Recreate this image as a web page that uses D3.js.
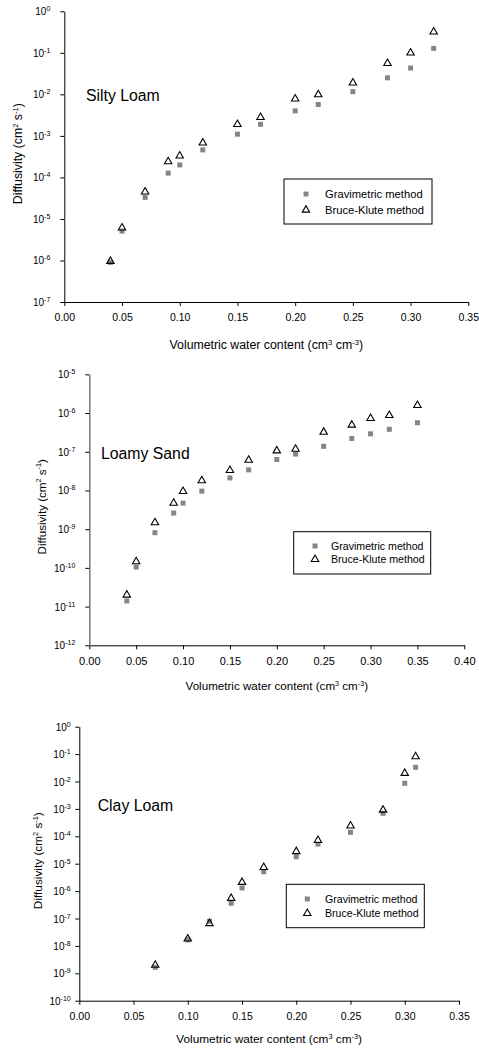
<!DOCTYPE html>
<html>
<head>
<meta charset="utf-8">
<script src="https://cdn.jsdelivr.net/npm/d3@7"></script>
<style>
  body { margin: 0; background: #fff; }
  svg { display: block; font-family: "Liberation Sans", Arial, sans-serif; }
</style>
</head>
<body>
<div id="chart"></div>
<script>
// Soil names and series names
const soilNames = ['Silty Loam', 'Loamy Sand', 'Clay Loam'];
const seriesNames = ['Gravimetric method', 'Bruce-Klute method'];
const xTitle = 'Volumetric water content';

// Silty loam
const siltyTheta = [0.04, 0.05, 0.07, 0.09, 0.10, 0.12, 0.15, 0.17, 0.20, 0.22, 0.25, 0.28, 0.30, 0.32];
const siltyGrav = [9.0e-7, 5.1e-6, 3.3e-5, 1.27e-4, 2.0e-4, 4.6e-4, 1.1e-3, 1.9e-3, 4.0e-3, 5.7e-3, 1.16e-2, 2.5e-2, 4.3e-2, 1.28e-1];
const siltyBK = [9.6e-7, 6.1e-6, 4.5e-5, 2.4e-4, 3.3e-4, 6.8e-4, 1.9e-3, 2.8e-3, 7.8e-3, 9.9e-3, 1.9e-2, 5.6e-2, 1.0e-1, 3.2e-1];
const siltyExps = [0, -1, -2, -3, -4, -5, -6, -7];

// Loamy sand
const sandTheta = [0.04, 0.05, 0.07, 0.09, 0.10, 0.12, 0.15, 0.17, 0.20, 0.22, 0.25, 0.28, 0.30, 0.32, 0.35];
const sandGrav = [1.4e-11, 1.05e-10, 8.1e-10, 2.6e-9, 4.7e-9, 9.6e-9, 2.1e-8, 3.4e-8, 6.3e-8, 8.7e-8, 1.38e-7, 2.2e-7, 2.9e-7, 3.8e-7, 5.6e-7];
const sandBK = [2.0e-11, 1.45e-10, 1.48e-9, 4.7e-9, 9.5e-9, 1.8e-8, 3.3e-8, 6.1e-8, 1.06e-7, 1.17e-7, 3.2e-7, 4.9e-7, 7.3e-7, 8.7e-7, 1.58e-6];
const sandExps = [-5, -6, -7, -8, -9, -10, -11, -12];

// Clay loam
const clayTheta = [0.07, 0.10, 0.12, 0.14, 0.15, 0.17, 0.20, 0.22, 0.25, 0.28, 0.30, 0.31];
const clayGrav = [1.65e-9, 1.65e-8, 7.9e-8, 3.6e-7, 1.3e-6, 5.1e-6, 1.8e-5, 5.2e-5, 1.4e-4, 6.9e-4, 8.6e-3, 3.3e-2];
const clayBK = [2.0e-9, 1.8e-8, 6.6e-8, 5.5e-7, 2.1e-6, 7.4e-6, 2.8e-5, 7.1e-5, 2.4e-4, 9.1e-4, 2.0e-2, 8.1e-2];
const clayExps = [0, -1, -2, -3, -4, -5, -6, -7, -8, -9, -10];

const xTicks35 = [0, 0.05, 0.10, 0.15, 0.20, 0.25, 0.30, 0.35];
const xTicks40 = [0, 0.05, 0.10, 0.15, 0.20, 0.25, 0.30, 0.35, 0.40];

const W = 479, H = 1049;

const svg = d3.select('#chart').append('svg')
  .attr('width', W)
  .attr('height', H);

// panel layout (pixels)
const panels = [
  {
    name: soilNames[0], theta: siltyTheta, grav: siltyGrav, bk: siltyBK, exps: siltyExps, xTicks: xTicks35,
    left: 64.3, right: 468.3, top: 11.3, bottom: 302,
    yAxisColor: '#000', tickFont: 10.5, titleFont: 12.3, yTitleX: 18, xTitleDy: 47, labelGap: 14,
    nameX: 21.7, nameY: 89.4,
    legend: { x: 284, y: 179, w: 148, h: 45, mx: 22, tx: 41, r1: 15, r2: 31, font: 11.2 }
  },
  {
    name: soilNames[1], theta: sandTheta, grav: sandGrav, bk: sandBK, exps: sandExps, xTicks: xTicks40,
    left: 89.3, right: 464.3, top: 374.3, bottom: 645.3,
    yAxisColor: '#808080', tickFont: 11, titleFont: 11.6, yTitleX: 41.7, xTitleDy: 45, labelGap: 14,
    nameX: 11.7, nameY: 84.7,
    legend: { x: 293.7, y: 531.7, w: 137, h: 42.3, mx: 21.3, tx: 37.3, r1: 14.3, r2: 27.6, font: 10.6 }
  },
  {
    name: soilNames[2], theta: clayTheta, grav: clayGrav, bk: clayBK, exps: clayExps, xTicks: xTicks35,
    left: 79.3, right: 459, top: 726.7, bottom: 1000.7,
    yAxisColor: '#000', tickFont: 10.5, titleFont: 11.8, yTitleX: 38, xTitleDy: 42.5, labelGap: 8.6,
    nameX: 18.4, nameY: 84,
    legend: { x: 286.3, y: 884.3, w: 138, h: 43.4, mx: 21, tx: 38.7, r1: 14.7, r2: 29, font: 10.6 }
  }
];

const squareSym = d3.symbol(d3.symbolSquare, 25);
const triSym = d3.symbol(d3.symbolTriangle, 24);

panels.forEach(p => {
  const g = svg.append('g');

  const x = d3.scaleLinear()
    .domain([0, p.xTicks[p.xTicks.length - 1]])
    .range([p.left, p.right]);

  const y = d3.scaleLog()
    .domain([Math.pow(10, d3.min(p.exps)), Math.pow(10, d3.max(p.exps))])
    .range([p.bottom, p.top]);

  // X axis
  const xAxis = g.append('g')
    .attr('transform', `translate(0,${p.bottom})`)
    .call(d3.axisBottom(x).tickValues(p.xTicks).tickSize(4).tickSizeOuter(0).tickPadding(7.5)
      .tickFormat(d3.format('.2f')));
  xAxis.selectAll('path, line').attr('stroke', '#000');
  xAxis.selectAll('text')
    .attr('font-size', p.tickFont)
    .attr('font-family', '"Liberation Sans", Arial, sans-serif')
    .attr('fill', '#000');

  // Y axis (log, labels as 10^n)
  const yAxis = g.append('g')
    .attr('transform', `translate(${p.left},0)`)
    .call(d3.axisLeft(y).tickValues(p.exps.map(e => Math.pow(10, e))).tickSize(4).tickSizeOuter(0)
      .tickPadding(p.labelGap - 4).tickFormat(() => ''));
  yAxis.select('.domain').attr('stroke', p.yAxisColor).attr('stroke-width', p.yAxisColor === '#000' ? 1 : 1.6);
  yAxis.selectAll('line').attr('stroke', '#000');
  yAxis.selectAll('.tick text').each(function(d, i) {
    const t = d3.select(this)
      .attr('font-size', 10)
      .attr('font-family', '"Liberation Sans", Arial, sans-serif')
      .attr('fill', '#000')
      .attr('dy', '0.35em');
    t.append('tspan').text('10');
    t.append('tspan')
      .attr('dy', -4)
      .attr('font-size', 7)
      .text(String(Math.round(Math.log10(d))));
  });

  // Axis titles
  const xt = g.append('text')
    .attr('x', (p.left + p.right) / 2)
    .attr('y', p.bottom + p.xTitleDy)
    .attr('text-anchor', 'middle')
    .attr('font-size', p.titleFont);
  xt.append('tspan').text(xTitle + ' (cm');
  xt.append('tspan').attr('dy', -4.5).attr('font-size', p.titleFont * 0.62).text('3');
  xt.append('tspan').attr('dy', 4.5).text(' cm');
  xt.append('tspan').attr('dy', -4.5).attr('font-size', p.titleFont * 0.62).text('-3');
  xt.append('tspan').attr('dy', 4.5).text(')');

  const ymid = (p.top + p.bottom) / 2 - 3;
  const yt = g.append('text')
    .attr('transform', `translate(${p.yTitleX + 4},${ymid}) rotate(-90)`)
    .attr('text-anchor', 'middle')
    .attr('font-size', p.titleFont);
  yt.append('tspan').text('Diffusivity (cm');
  yt.append('tspan').attr('dy', -4.5).attr('font-size', p.titleFont * 0.62).text('2');
  yt.append('tspan').attr('dy', 4.5).text(' s');
  yt.append('tspan').attr('dy', -4.5).attr('font-size', p.titleFont * 0.62).text('-1');
  yt.append('tspan').attr('dy', 4.5).text(')');

  // Soil name
  g.append('text')
    .attr('x', p.left + p.nameX)
    .attr('y', p.top + p.nameY)
    .attr('font-size', 15.8)
    .text(p.name);

  // Gravimetric points (squares)
  g.selectAll('.grav')
    .data(p.theta.map((t, i) => ({ t, v: p.grav[i] })))
    .enter()
    .append('path')
    .attr('class', 'grav')
    .attr('d', squareSym)
    .attr('transform', d => `translate(${x(d.t)},${y(d.v)})`)
    .attr('fill', '#858585');

  // Bruce-Klute points (open triangles)
  g.selectAll('.bk')
    .data(p.theta.map((t, i) => ({ t, v: p.bk[i] })))
    .enter()
    .append('path')
    .attr('class', 'bk')
    .attr('d', triSym)
    .attr('transform', d => `translate(${x(d.t)},${y(d.v)})`)
    .attr('fill', 'none')
    .attr('stroke', '#000')
    .attr('stroke-width', 1.1);

  // Legend
  const L = p.legend;
  const lg = g.append('g').attr('transform', `translate(${L.x},${L.y})`);
  lg.append('rect')
    .attr('width', L.w)
    .attr('height', L.h)
    .attr('fill', '#fff')
    .attr('stroke', '#000')
    .attr('stroke-width', 1);
  lg.append('path')
    .attr('d', squareSym)
    .attr('transform', `translate(${L.mx},${L.r1})`)
    .attr('fill', '#858585');
  lg.append('path')
    .attr('d', triSym)
    .attr('transform', `translate(${L.mx},${L.r2})`)
    .attr('fill', 'none')
    .attr('stroke', '#000')
    .attr('stroke-width', 1.1);
  [L.r1, L.r2].forEach((r, i) => {
    lg.append('text')
      .attr('x', L.tx)
      .attr('y', r)
      .attr('dy', '0.35em')
      .attr('font-size', L.font)
      .text(seriesNames[i]);
  });
});
</script>
</body>
</html>
